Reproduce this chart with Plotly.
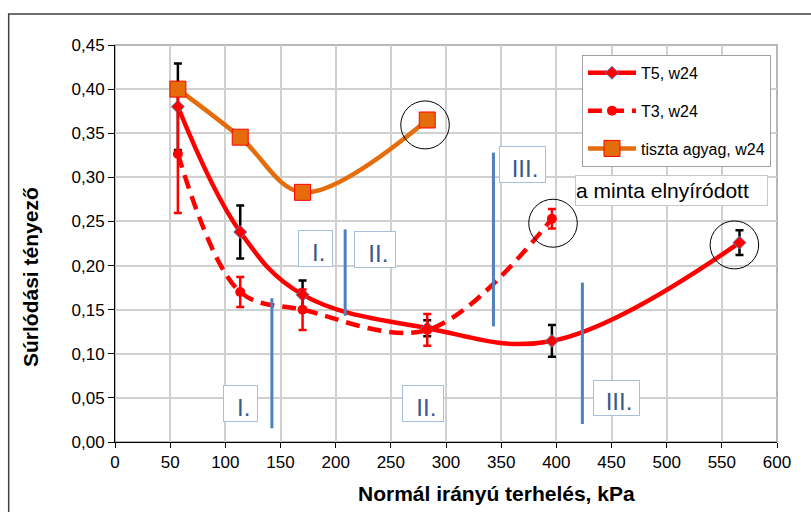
import plotly.graph_objects as go

# ---- data ----
load_t5 = [57, 113.5, 170, 283, 396, 566]
mu_t5 = [0.380, 0.238, 0.167, 0.129, 0.1145, 0.226]
err_t5 = [0.049, 0.030, 0.016, 0.009, 0.018, 0.014]

load_t3 = [57, 113.5, 170, 283, 396]
mu_t3 = [0.3265, 0.170, 0.150, 0.127, 0.253]
err_t3 = [0.067, 0.017, 0.023, 0.018, 0.011]

load_clay = [57, 113.5, 170, 283]
mu_clay = [0.400, 0.3455, 0.283, 0.365]

names = ["T5, w24", "T3, w24", "tiszta agyag, w24"]
x_ticks = list(range(0, 601, 50))
y_ticks = [i * 0.05 for i in range(10)]

FONT = "Liberation Sans, Arial, sans-serif"
RED = "#ff0000"
ORANGE = "#e46c0a"
BLUE = "#4f81bd"

fig = go.Figure()

fig.add_trace(go.Scatter(
    x=load_t5, y=mu_t5, name=names[0], legendgroup="a",
    mode="lines+markers",
    line=dict(color=RED, width=4.5, shape="spline", smoothing=1.1),
    marker=dict(symbol="diamond", size=10, color=RED, line=dict(color=BLUE, width=1)),
    error_y=dict(type="data", array=err_t5, visible=True, color="black", thickness=2.5, width=4),
))
fig.add_trace(go.Scatter(
    x=load_t3, y=mu_t3, name=names[1], legendgroup="b",
    mode="lines+markers",
    line=dict(color=RED, width=4.5, shape="spline", smoothing=1.0, dash="14px,8px"),
    marker=dict(symbol="circle", size=10, color=RED),
    error_y=dict(type="data", array=err_t3, visible=True, color=RED, thickness=2.5, width=4),
))
fig.add_trace(go.Scatter(
    x=load_clay, y=mu_clay, name=names[2], legendgroup="c",
    mode="lines+markers",
    line=dict(color=ORANGE, width=4.5, shape="spline", smoothing=1.0),
    marker=dict(symbol="square", size=16, color=ORANGE, line=dict(color=RED, width=1)),
))

shapes = []
# plot area border
shapes.append(dict(type="rect", xref="paper", yref="paper", x0=0, x1=1, y0=0, y1=1,
                   line=dict(color="#a0a0a0", width=1.5), layer="below"))
# outer chart frame
shapes.append(dict(type="rect", xref="paper", yref="paper", x0=-0.1606, x1=1.2, y0=-0.3, y1=1.078,
                   line=dict(color="#404040", width=1.5), layer="below"))
# blue region separators
for (xx, y0, y1) in [(142.2, 0.0155, 0.163), (208.6, 0.143, 0.241), (343, 0.131, 0.328), (423.6, 0.0204, 0.1806)]:
    shapes.append(dict(type="line", xref="x", yref="y", x0=xx, x1=xx, y0=y0, y1=y1,
                       line=dict(color=BLUE, width=3)))
# circles
for (cx, cy) in [(281, 0.3594), (397, 0.248), (561.4, 0.2234)]:
    shapes.append(dict(type="circle", xref="x", yref="y", x0=cx - 22, x1=cx + 22,
                       y0=cy - 0.0272, y1=cy + 0.0272, line=dict(color="black", width=1)))

annotations = []
for (txt, cx, cy, w, h) in [("I.", 113.7, 0.044, 35, 37), ("I.", 181.4, 0.219, 35, 37),
                             ("II.", 235.5, 0.2177, 42, 37), ("II.", 278.8, 0.0439, 42, 37),
                             ("III.", 369.6, 0.314, 47, 37), ("III.", 454.7, 0.0495, 47, 36)]:
    annotations.append(dict(x=cx, y=cy, xref="x", yref="y", text=txt + "&nbsp;", showarrow=False,
                            width=w - 2, height=h - 2, align="right", valign="bottom",
                            bgcolor="white", bordercolor="#a7bfde", borderwidth=1, borderpad=0,
                            font=dict(family=FONT, size=24, color="#3a5a8c")))
annotations.append(dict(x=504.5, y=0.2848, xref="x", yref="y", text="a minta elnyíródott",
                        showarrow=False, width=191, height=29, align="left", bgcolor="white",
                        bordercolor="#c8c8c8", borderwidth=1, borderpad=0,
                        font=dict(family=FONT, size=21, color="black")))
annotations.append(dict(x=-0.1284, y=0.4156, xref="paper", yref="paper", text="<b>Súrlódási tényező</b>",
                        xanchor="center", yanchor="middle",
                        textangle=-90, showarrow=False, font=dict(family=FONT, size=21, color="black")))
annotations.append(dict(x=0.577, y=-0.1285, xref="paper", yref="paper",
                        text="<b>Normál irányú terhelés, kPa</b>", xanchor="center", yanchor="middle",
                        showarrow=False, font=dict(family=FONT, size=21, color="black")))

fig.update_layout(
    width=811, height=512,
    margin=dict(l=115, r=34, t=45, b=70),
    paper_bgcolor="white", plot_bgcolor="white",
    separators=", ",
    font=dict(family=FONT, size=16, color="black"),
    showlegend=True,
    legend=dict(x=0.7054, y=0.975, xanchor="left", yanchor="top",
                bgcolor="white", bordercolor="#a0a0a0", borderwidth=1,
                font=dict(family=FONT, size=16), tracegroupgap=14, itemwidth=48),
    shapes=shapes, annotations=annotations,
)
fig.update_xaxes(range=[0, 600], tickvals=x_ticks, ticks="outside", ticklen=5, tickcolor="black",
                 showline=True, linecolor="black", linewidth=1, showgrid=True,
                 gridcolor="#d0d0d0", gridwidth=1.5, zeroline=False,
                 tickfont=dict(family=FONT, size=17))
fig.update_yaxes(range=[0, 0.45], tickvals=y_ticks, tickformat=".2f", ticks="outside", ticklen=6,
                 tickcolor="black", showline=True, linecolor="black", linewidth=1, showgrid=True,
                 gridcolor="#d0d0d0", gridwidth=1.5, zeroline=False,
                 tickfont=dict(family=FONT, size=17))

fig.write_html("out.html")
